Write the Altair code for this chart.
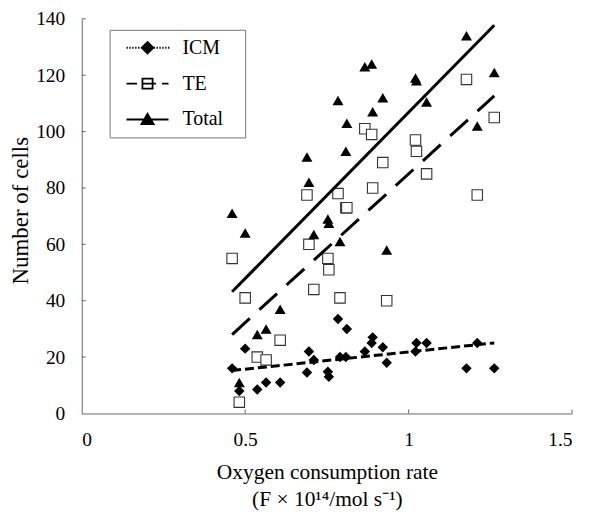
import altair as alt
import pandas as pd

# ---- data ----
rate = [0.460, 0.482, 0.500, 0.537, 0.564, 0.607, 0.689, 0.695, 0.710, 0.753, 0.756,
        0.784, 0.790, 0.808, 0.811, 0.866, 0.887, 0.890, 0.921, 0.933, 1.021, 1.024,
        1.055, 1.177, 1.210, 1.262]
icm = [16, 8, 23, 8.5, 11, 11, 14.5, 22, 19, 14.8, 13, 33.5, 20, 20, 30, 22, 25, 27,
       23.5, 18, 22, 25, 25, 16, 25, 16]
te = [55, 4, 41, 20, 19, 26, 77.5, 60, 44, 55, 51, 78, 41, 73, 73, 101, 99, 80, 89, 40,
      97, 93, 85, 118.5, 77.5, 105]
total = [71, 11, 64, 28, 30, 37, 91, 82, 63.5, 69, 67.5, 111, 61, 93, 103, 123, 124, 107,
         112, 58, 119, 118, 110.5, 134, 102, 121]
series_names = ["ICM", "TE", "Total"]
y_ticks = [0, 20, 40, 60, 80, 100, 120, 140]
x_ticks = [0, 0.5, 1, 1.5]

FONT = "Liberation Serif"

rows = []
for name, vals in zip(series_names, [icm, te, total]):
    for r, v in zip(rate, vals):
        rows.append({"rate": r, "count": v, "series": name})
df = pd.DataFrame(rows)

# ---- legend symbols (line + marker) as custom paths ----
def seg(a, b):
    return f"M{a:.3f},0L{b:.3f},0"

L = 1.24
dots = ""
p = -L
while p < -0.36:
    dots += seg(p, p + 0.08)
    p += 0.17
p = 0.36
while p < L:
    dots += seg(p, p + 0.08)
    p += 0.17
icm_path = dots + "M0,-0.34L0.34,0L0,0.34L-0.34,0Z"
te_path = seg(-L, -0.62) + "M-0.3,-0.3L0.3,-0.3L0.3,0.3L-0.3,0.3Z" + seg(-0.3, 0.5) + seg(0.85, L)
total_path = seg(-L, L) + "M0,-0.34L0.36,0.27L-0.36,0.27Z"

base = alt.Chart(df).encode(
    x=alt.X("rate:Q", scale=alt.Scale(domain=[0, 1.5], nice=False),
            axis=alt.Axis(values=x_ticks, format="~g", labelPadding=17, titlePadding=13,
                          title=["Oxygen consumption rate", "(F × 10¹⁴/mol s⁻¹)"],
                          titleLineHeight=27, titleFontSize=21.5)),
    y=alt.Y("count:Q", scale=alt.Scale(domain=[0, 140], nice=False),
            axis=alt.Axis(values=y_ticks, labelPadding=17, title="Number of cells",
                          titleX=-49, titleY=192, titleFontSize=23)),
)

pts_icm = base.transform_filter(alt.datum.series == "ICM").mark_point(
    shape="diamond", filled=True, color="black", size=110, opacity=1)
pts_te = base.transform_filter(alt.datum.series == "TE").mark_point(
    shape="square", filled=False, fill="white", stroke="#333", strokeWidth=1.1, size=110, opacity=1)
pts_tot = base.transform_filter(alt.datum.series == "Total").mark_point(
    shape="triangle-up", filled=True, color="black", size=121, opacity=1)

line_icm = base.transform_filter(alt.datum.series == "ICM").transform_regression(
    "rate", "count").mark_line(color="black", strokeWidth=3, strokeDash=[9, 4])
line_te = base.transform_filter(alt.datum.series == "TE").transform_regression(
    "rate", "count").mark_line(color="black", strokeWidth=3, strokeDash=[24, 13])
line_tot = base.transform_filter(alt.datum.series == "Total").transform_regression(
    "rate", "count").mark_line(color="black", strokeWidth=3)

leg = dict(title="\u00a0", titleOrient="right", titlePadding=14, titleFontSize=20,
           orient="none", legendX=28, legendY=11, symbolSize=1156,
           symbolStrokeWidth=1.8, symbolOpacity=1, clipHeight=20,
           labelFont=FONT, labelFontSize=20, labelColor="black", labelOffset=17,
           symbolOffset=12, padding=8, rowPadding=16, strokeColor="#777", labelLimit=0)

legend_layer = base.mark_point(opacity=0, size=10).encode(
    shape=alt.Shape("series:N", scale=alt.Scale(domain=series_names,
                    range=[icm_path, te_path, total_path]), legend=alt.Legend(**leg)),
    fill=alt.Fill("series:N", scale=alt.Scale(domain=series_names,
                  range=["black", "white", "black"]), legend=alt.Legend(**leg)),
    stroke=alt.Stroke("series:N", scale=alt.Scale(domain=series_names,
                      range=["black", "black", "black"]), legend=alt.Legend(**leg)),
)

ytick_layer = alt.Chart(pd.DataFrame({"count": y_ticks[1:]})).mark_rule(
    color="#666", strokeWidth=1).encode(y="count:Q", x=alt.value(0), x2=alt.value(4))
xtick_layer = alt.Chart(pd.DataFrame({"rate": x_ticks[1:]})).mark_rule(
    color="#666", strokeWidth=1).encode(x="rate:Q", y=alt.value(396), y2=alt.value(392))

chart = alt.layer(
    ytick_layer, xtick_layer, pts_te, pts_icm, pts_tot, line_icm, line_te, line_tot, legend_layer
).properties(
    width=492, height=396, autosize="none",
    padding={"left": 74, "top": 10, "right": 15, "bottom": 98},
).configure_view(stroke=None).configure_axis(
    labelFont=FONT, labelFontSize=19.5, labelColor="black", titleFont=FONT,
    titleFontWeight="normal", titleColor="black",
    domainColor="#666", ticks=False, grid=False,
)

chart.save("out.html", embed_options={"renderer": "svg", "actions": False})
